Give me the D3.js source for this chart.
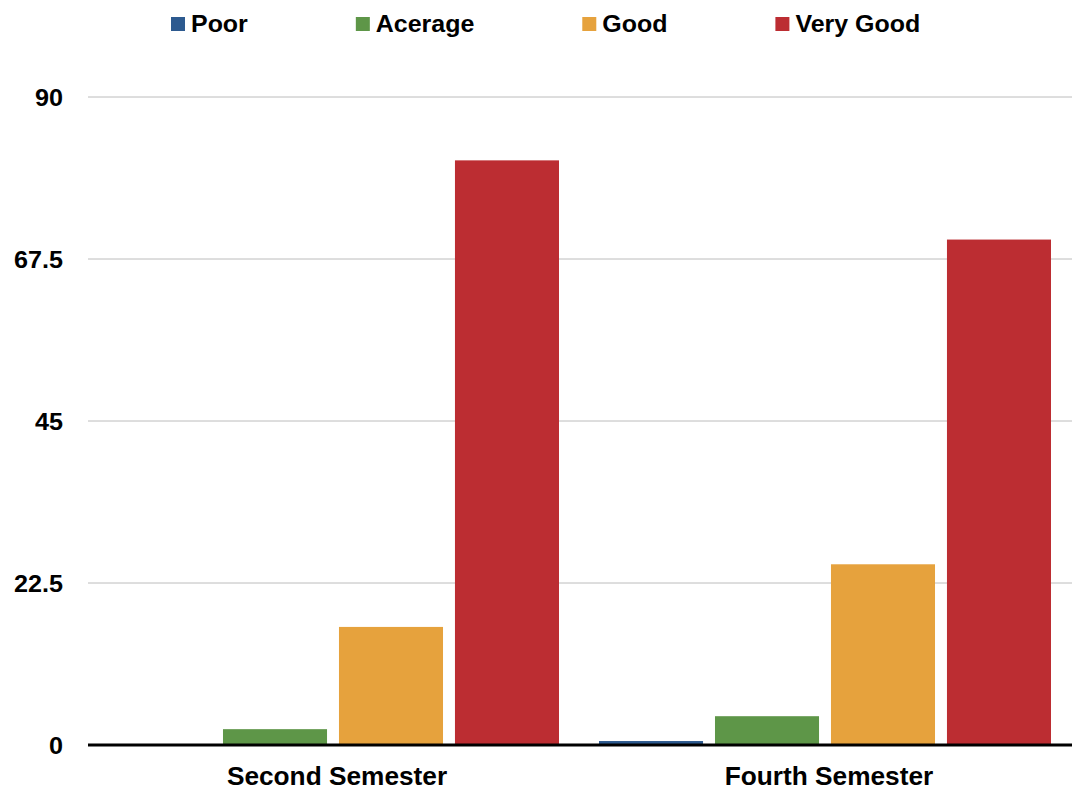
<!DOCTYPE html>
<html>
<head>
<meta charset="utf-8">
<script src="https://d3js.org/d3.v7.min.js"></script>
<style>
  html, body { margin: 0; padding: 0; background: #fff; }
  svg { display: block; font-family: "Liberation Sans", Arial, sans-serif; font-weight: bold; }
</style>
</head>
<body>
<script>
const categories = ["Second Semester", "Fourth Semester"];
const seriesNames = ["Poor", "Acerage", "Good", "Very Good"];
const poorValues = [0, 0.55];
const averageValues = [2.2, 4.0];
const goodValues = [16.4, 25.1];
const veryGoodValues = [81.2, 70.2];
const yTicks = [0, 22.5, 45, 67.5, 90];
const seriesColors = ["#2d5a8f", "#5e9648", "#e6a23d", "#bc2d32"];

const seriesValues = [poorValues, averageValues, goodValues, veryGoodValues];

const W = 1072, H = 790;
const plotLeft = 88, plotRight = 1072, plotTop = 97, plotBottom = 745;

const svg = d3.select("body").append("svg").attr("width", W).attr("height", H);

const y = d3.scaleLinear().domain([0, 90]).range([plotBottom, plotTop]);
const x0 = d3.scaleBand().domain(categories).range([plotLeft, plotRight]).padding(0);
const x1 = d3.scaleBand().domain(seriesNames).range([19, 471]).paddingInner(0.103).paddingOuter(0);

// gridlines
svg.append("g").selectAll("line").data(yTicks.filter(d => d !== 0)).join("line")
  .attr("x1", plotLeft).attr("x2", plotRight)
  .attr("y1", d => y(d)).attr("y2", d => y(d))
  .attr("stroke", "#bcbcbc").attr("stroke-width", 1);

// y tick labels
svg.append("g").selectAll("text").data(yTicks).join("text")
  .attr("transform", d => `translate(63,${y(d) + 8.5}) scale(1.05,1)`)
  .attr("text-anchor", "end")
  .attr("font-size", 24)
  .attr("fill", "#000")
  .text(d => d);

// bars
const groups = svg.append("g").selectAll("g").data(categories).join("g")
  .attr("transform", d => `translate(${x0(d)},0)`);

groups.selectAll("rect")
  .data((c, ci) => seriesNames.map((s, si) => ({ s, si, v: seriesValues[si][ci] })))
  .join("rect")
  .attr("x", d => x1(d.s))
  .attr("width", x1.bandwidth())
  .attr("y", d => y(d.v))
  .attr("height", d => y(0) - y(d.v))
  .attr("fill", d => seriesColors[d.si]);

// x axis line
svg.append("line")
  .attr("x1", plotLeft).attr("x2", plotRight)
  .attr("y1", y(0)).attr("y2", y(0))
  .attr("stroke", "#000").attr("stroke-width", 3);

// category labels
svg.append("g").selectAll("text").data(categories).join("text")
  .attr("transform", d => `translate(${x0(d) + x0.bandwidth() / 2 + 3},785) scale(1.05,1)`)
  .attr("text-anchor", "middle")
  .attr("font-size", 25)
  .attr("fill", "#000")
  .text(d => d);

// legend
const legend = svg.append("g");
let lx = 171;
seriesNames.forEach((name, i) => {
  legend.append("rect")
    .attr("x", lx).attr("y", 17).attr("width", 14).attr("height", 14)
    .attr("fill", seriesColors[i]);
  const t = legend.append("text")
    .attr("transform", `translate(${lx + 20},31.5) scale(1.04,1)`)
    .attr("font-size", 24)
    .attr("fill", "#000")
    .text(name);
  const w = t.node().getComputedTextLength() * 1.04;
  lx = lx + 20 + w + 108;
});
</script>
</body>
</html>
